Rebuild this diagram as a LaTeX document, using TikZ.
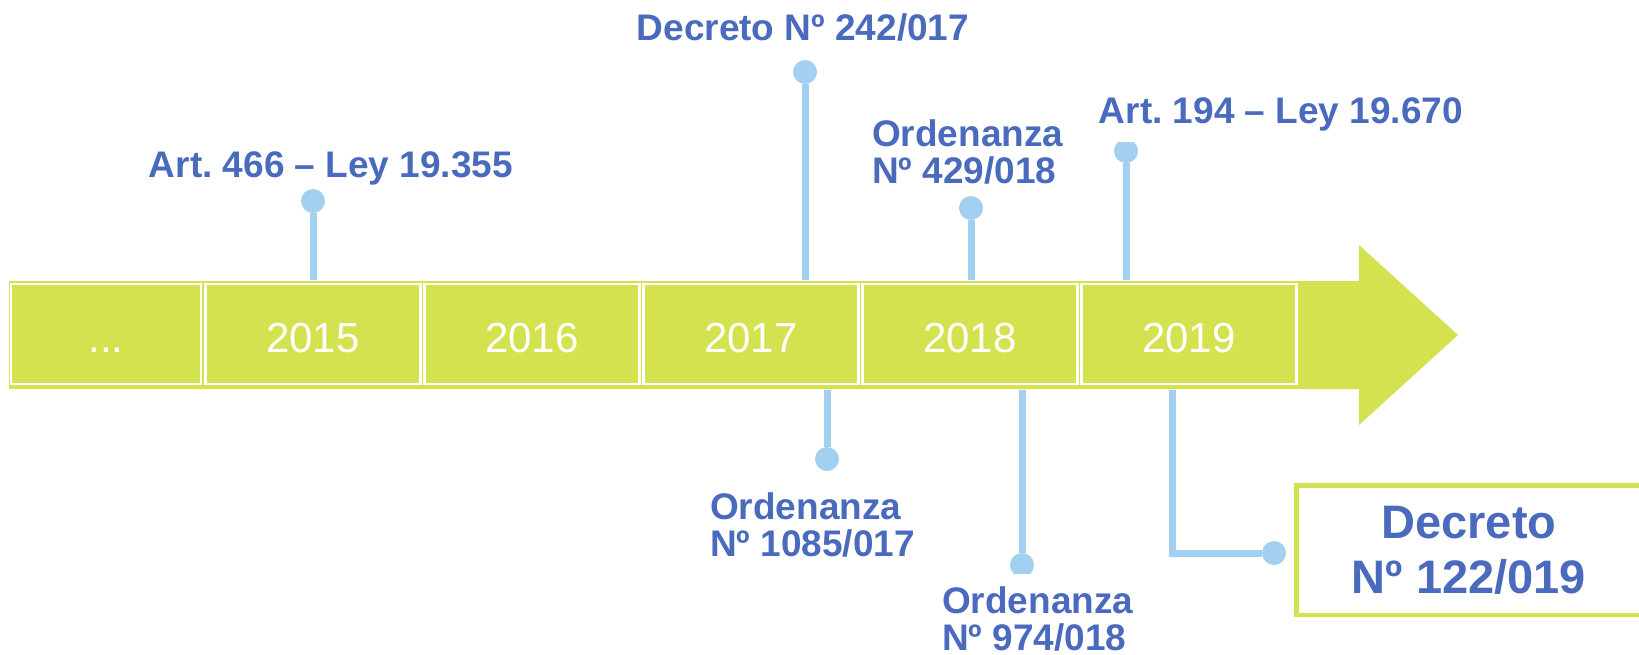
\documentclass[tikz,border=0pt]{standalone}
\usepackage{fontspec}
\setmainfont{Liberation Sans}
\usetikzlibrary{calc}
\definecolor{bargreen}{HTML}{D4E250}
\definecolor{stemblue}{HTML}{A3D0F0}
\definecolor{lawblue}{HTML}{4A6BBD}
\frenchspacing

\begin{document}
\begin{tikzpicture}[x=1pt, y=-1pt,
    yearbox/.style={draw=white, line width=2.5pt, fill=bargreen, text=white, minimum width=215pt, minimum height=100pt, text height=36pt, text depth=0pt, inner sep=0pt, font=\fontsize{42}{50}\selectfont},
    lawlabel/.style={text=lawblue, fill=white, inner xsep=0pt, inner ysep=2pt, align=left, font=\bfseries\fontsize{37}{36.5}\selectfont},
    stem/.style={stemblue, line width=7pt},
    stemdot/.style={circle, fill=stemblue, inner sep=0pt, minimum size=24pt}]
    		\useasboundingbox (0,0) rectangle (1639,654);
    		\fill[white] (0,0) rectangle (1639,654);

    		% Timeline arrow
    		\fill[bargreen] (9,281) -- (1359,281) -- (1359,245) -- (1458,335) -- (1359,425) -- (1359,389) -- (9,389) -- cycle;

    		% Year boxes
    		\node[yearbox, minimum width=190pt] (y0) at (106,334) {...};
    		\foreach \yr [count=\i from 0] in {2015,2016,2017,2018,2019}
    			\node[yearbox] (y\yr) at ({313+219*\i},334) {\yr};

    		% Dots
    		\node[stemdot] (d466) at (313,201) {};
    		\node[stemdot] (d242) at (805,72) {};
    		\node[stemdot] (d429) at (971,208) {};
    		\node[stemdot] (d194) at (1126,151) {};
    		\node[stemdot] (d1085) at (827,459) {};
    		\node[stemdot] (d974) at (1022,565) {};
    		\node[stemdot] (d122) at (1274,553) {};

    		% Stems above the bar
    		\draw[stem, shorten >=3pt] (d466) -- (d466 |- y2015.north);
    		\draw[stem, shorten >=3pt] (d242) -- (d242 |- y2017.north);
    		\draw[stem, shorten >=3pt] (d429) -- (d429 |- y2018.north);
    		\draw[stem, shorten >=3pt] (d194) -- (d194 |- y2019.north);

    		% Stems below the bar
    		\draw[stem, shorten <=5pt] (d1085 |- y2017.south) -- (d1085);
    		\draw[stem, shorten <=5pt] (d974 |- y2018.south) -- (d974);
    		\coordinate (b122) at (1172,553);
    		\draw[stem, shorten <=5pt] (b122 |- y2019.south) -- (b122) -- (d122);

    		% Labels (base = last line)
    		\node[lawlabel, anchor=base] (l466) at (331,177) {Art. 466 – Ley 19.355};
    		\node[lawlabel, anchor=base] (l242) at (803,40) {Decreto Nº 242/017};
    		\node[lawlabel, anchor=base west] (l429) at (872,183) {Ordenanza\\Nº 429/018};
    		\node[lawlabel, anchor=base, inner ysep=11pt] (l194) at (1281,123) {Art. 194 – Ley 19.670};
    		\node[lawlabel, anchor=base west] (l1085) at (710,556) {Ordenanza\\Nº 1085/017};
    		\node[lawlabel, anchor=base west, inner ysep=13pt] (l974) at (942,650) {Ordenanza\\Nº 974/018};

    		% Highlighted decree
    		\node[draw=bargreen, line width=4.5pt, minimum width=345.5pt, minimum height=129.5pt, text=lawblue, align=center, font=\bfseries\fontsize{47}{55}\selectfont] (dec122) at (1469,550) {Decreto\\Nº 122/019};
    	\end{tikzpicture}
\end{document}
